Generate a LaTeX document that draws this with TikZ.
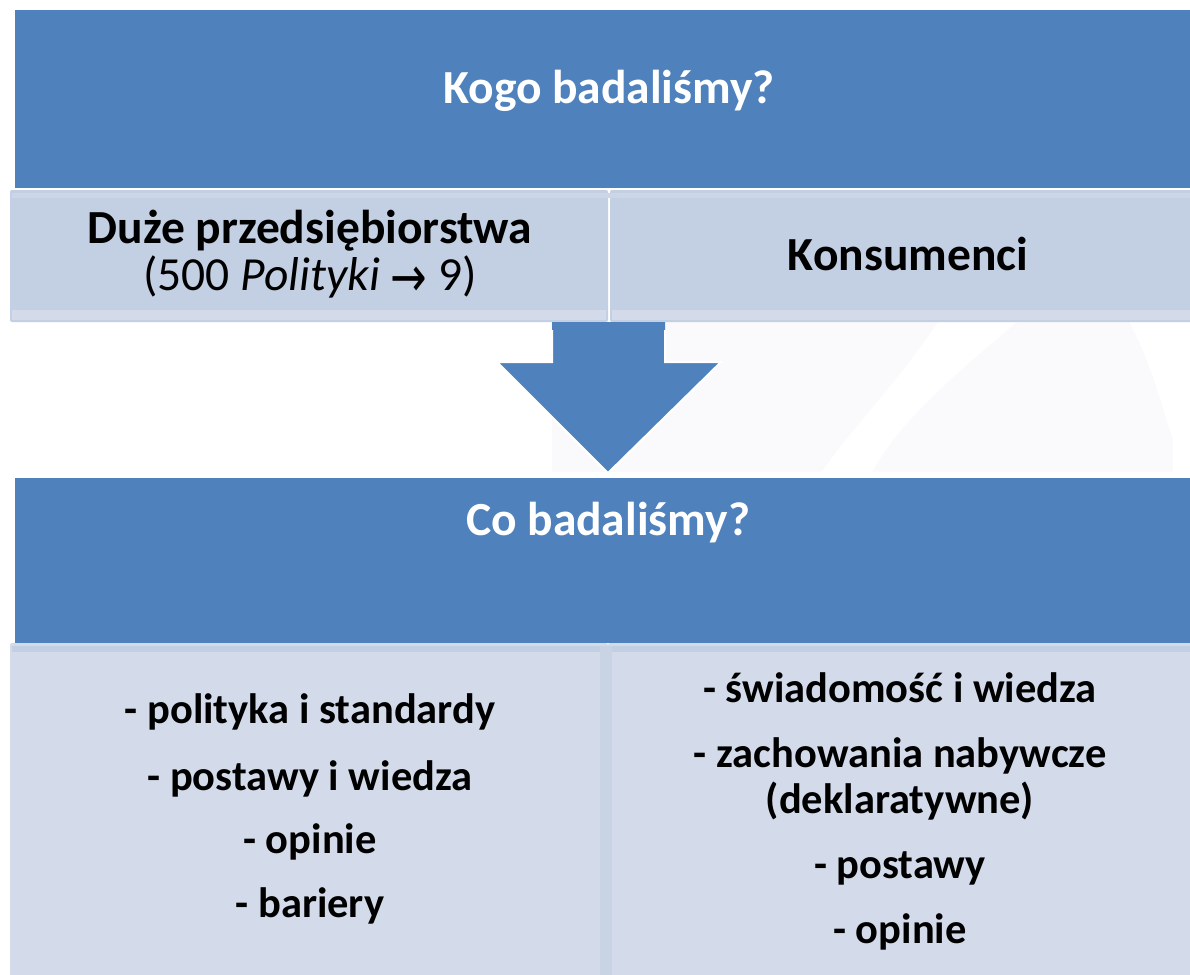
\documentclass[tikz,border=0pt]{standalone}
\usepackage{fontspec}
\setmainfont{Carlito}
\newfontfamily\symfont{DejaVu Sans}
\definecolor{hdrblue}{HTML}{4F81BD}
\definecolor{lightA}{HTML}{C3CFE2}
\definecolor{lightB}{HTML}{D3DBEA}
\definecolor{faint}{HTML}{FAFAFC}
\tikzset{
  hdr/.style={fill=hdrblue},
  cellA/.style={fill=lightA, rounded corners=2pt},
  cellB/.style={fill=lightB, rounded corners=2pt},
  hdrtext/.style={anchor=base, text=white, font=\fontsize{47.5}{47.5}\selectfont\bfseries, inner sep=0pt},
  celltext/.style={anchor=base, text=black, font=\fontsize{47.5}{47.5}\selectfont\bfseries, inner sep=0pt, align=center},
  listtext/.style={anchor=base, text=black, font=\fontsize{42.5}{42.5}\selectfont\bfseries, inner sep=0pt, align=center},
}
\begin{document}
\begin{tikzpicture}[x=1pt,y=-1pt]
\useasboundingbox (0,0) rectangle (1190,974);
\fill[white] (0,0) rectangle (1190,974);
% faint background decoration
\fill[faint] (552,322) rectangle (1173,472);
\fill[white] (938,322) .. controls (900,380) and (850,430) .. (822,472) -- (872,472) .. controls (900,420) and (960,370) .. (1017,322) -- cycle;
\fill[white] (1129,322) .. controls (1150,360) and (1160,400) .. (1173,440) -- (1173,322) -- cycle;
% top header
\fill[hdr] (15,10) rectangle (1190,188);
\node[hdrtext] (kogo) at (609,103) {Kogo badaliśmy?};
% first row cells
\fill[cellA] (10,190) rectangle (608,322);
\fill[lightB] (12,310) rectangle (606,320);
\fill[cellA] (610,190) rectangle (1192,322);
\fill[lightB] (612,310) rectangle (1192,320);
\fill[lightB!60!lightA] (12,193) rectangle (1190,198);
\node[celltext] (duze) at (310,243) {Duże przedsiębiorstwa};
\node[anchor=base, inner sep=0pt, font=\fontsize{47.5}{47.5}\selectfont] (pol) at (310,290) {(500 \textit{Polityki} \raisebox{-6pt}{\symfont\fontsize{56}{56}\selectfont\scalebox{0.78}[1]{→}} 9)};
\node[celltext] (kons) at (908,270) {Konsumenci};
% arrow
\fill[hdr] (552,322) -- (665,322) -- (665,362) -- (721,362) -- (608,473) -- (497,362) -- (552,362) -- cycle;
\draw[white, line width=2pt, line join=miter] (665,330) -- (665,362) -- (721,362) -- (608,473) -- (497,362) -- (552,362) -- (552,330);
% bottom header
\fill[hdr] (15,478) rectangle (1190,643);
\node[hdrtext] (co) at (608,535) {Co badaliśmy?};
% bottom cells
\fill[cellB] (10,643) rectangle (608,980);
\fill[cellB] (608,643) rectangle (1192,980);
\fill[lightA] (12,646) rectangle (1190,652);
\fill[lightA!70!lightB] (600,646) rectangle (612,980);
\node[listtext] (l1) at (310,723) {- polityka i standardy};
\node[listtext] (l2) at (310,790) {- postawy i wiedza};
\node[listtext] (l3) at (310,853) {- opinie};
\node[listtext] (l4) at (310,917) {- bariery};
\node[listtext] (r1) at (900,702) {- świadomość i wiedza};
\node[listtext] (r2) at (900,767) {- zachowania nabywcze};
\node[listtext] (r3) at (900,813) {(deklaratywne)};
\node[listtext] (r4) at (900,878) {- postawy};
\node[listtext] (r5) at (900,943) {- opinie};
\end{tikzpicture}
\end{document}
